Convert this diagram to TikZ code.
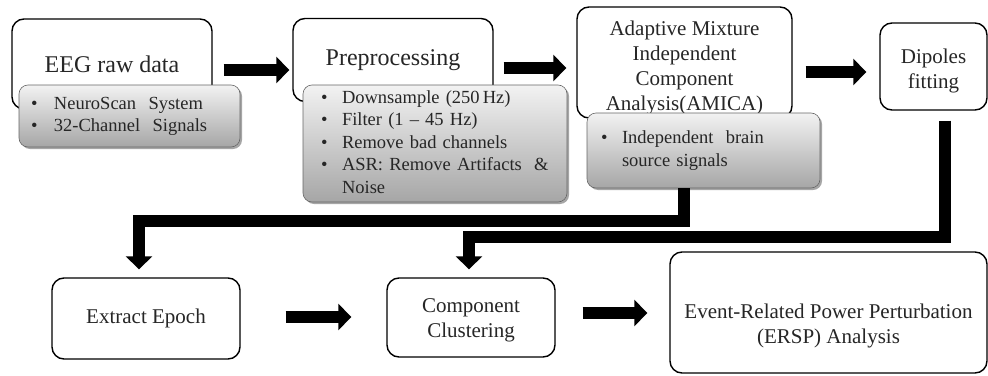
\documentclass[tikz,border=0pt]{standalone}
\usepackage{fontspec}
\setmainfont{Liberation Serif}
\usetikzlibrary{arrows.meta,shadows}
\newcommand\subfont{\fontsize{18.5}{22.5}\selectfont}
\newcommand\bigtitle{\fontsize{24}{28}\selectfont}
\newcommand\midtitle{\fontsize{21}{25}\selectfont}
\begin{document}
\begin{tikzpicture}[x=1pt,y=-1pt,
  mainbox/.style={draw=black, line width=1.4pt, rounded corners=12pt, fill=white,
    align=center, inner sep=0pt, text=black!85, font=\midtitle},
  subbox/.style={draw=black!60, line width=0.6pt, rounded corners=9pt,
    top color=black!5, bottom color=black!35,
    drop shadow={shadow xshift=2pt, shadow yshift=-2pt, opacity=0.35, fill=black},
    inner ysep=0pt, align=left, text=black!85, font=\subfont},
  fat/.style={line width=12pt, line join=miter,
    -{Triangle[width=26pt 0, length=13pt 0]}},
]
\useasboundingbox (0,0) rectangle (988,375);

% main boxes
\node[mainbox, font=\bigtitle, minimum width=200pt, minimum height=90pt] (eeg) at (112,64)
  {EEG raw data};
\node[mainbox, font=\bigtitle, minimum width=200pt, minimum height=83pt] (pre) at (393,60)
  {Preprocessing};
\node[mainbox, minimum width=215pt, minimum height=111pt] (am) at (684.5,62.5)
  {\rule{0pt}{25pt}Adaptive Mixture\\ Independent\\ Component\\ Analysis(AMICA)};
\node[mainbox, minimum width=107pt, minimum height=87pt] (dip) at (933.5,66.5)
  {\rule{0pt}{23pt}Dipoles\\ fitting};
\node[mainbox, minimum width=188pt, minimum height=81pt] (ee) at (146,318.5)
  {Extract Epoch};
\node[mainbox, minimum width=168pt, minimum height=79pt] (cc) at (471,317.5)
  {\rule{0pt}{20pt}Component\\ Clustering};
\node[mainbox, minimum width=317pt, minimum height=121pt] (ersp) at (828.5,312.5)
  {\rule{0pt}{42pt}Event-Related Power Perturbation\\ (ERSP) Analysis};

% grey detail boxes
\node[subbox, inner xsep=12pt, text width=197pt, minimum height=62pt] (eegsub) at (129.5,116)
  {\begin{tabular}{@{}p{23pt}@{}l@{}}
   \textbullet & NeuroScan\ \ System\\
   \textbullet & 32-Channel\ \ Signals
  \end{tabular}};
\node[subbox, inner xsep=18pt, text width=228pt, minimum height=117pt] (presub) at (435,143.5)
  {\begin{tabular}{@{}p{21pt}@{}l@{}}
   \textbullet & Downsample\ (250\,Hz)\\
   \textbullet & Filter (1 -- 45 Hz)\\
   \textbullet & Remove bad channels\\
   \textbullet & ASR:\ Remove Artifacts \ \&\\
               & Noise
  \end{tabular}};
\node[subbox, inner xsep=14pt, text width=205pt, minimum height=75pt] (amsub) at (703.5,150.5)
  {\begin{tabular}{@{}p{21pt}@{}l@{}}
   \textbullet & Independent\ \ brain\\
               & source signals
  \end{tabular}};

% connectors
\draw[fat, shorten <=11pt, shorten >=3pt] (eeg.east |- 0,70) -- (pre.west |- 0,70);
\draw[fat, shorten <=10pt, shorten >=10pt] (pre.east |- 0,68) -- (am.west |- 0,68);
\draw[fat, shorten <=13pt, shorten >=13pt] (am.east |- 0,72) -- (dip.west |- 0,72);
\draw[fat, shorten <=45pt, shorten >=35pt] (ee.east |- 0,317) -- (cc.west |- 0,317);
\draw[fat, shorten <=27pt, shorten >=22pt] (cc.east |- 0,313) -- (ersp.west |- 0,313);

\draw[fat, shorten >=8pt] (amsub.south -| 684,0) |- (139,221) -- (ee.north -| 139,0);
\draw[fat, shorten <=10pt, shorten >=8pt] (dip.south -| 945,0) |- (469,237) -- (cc.north -| 469,0);
\end{tikzpicture}
\end{document}
